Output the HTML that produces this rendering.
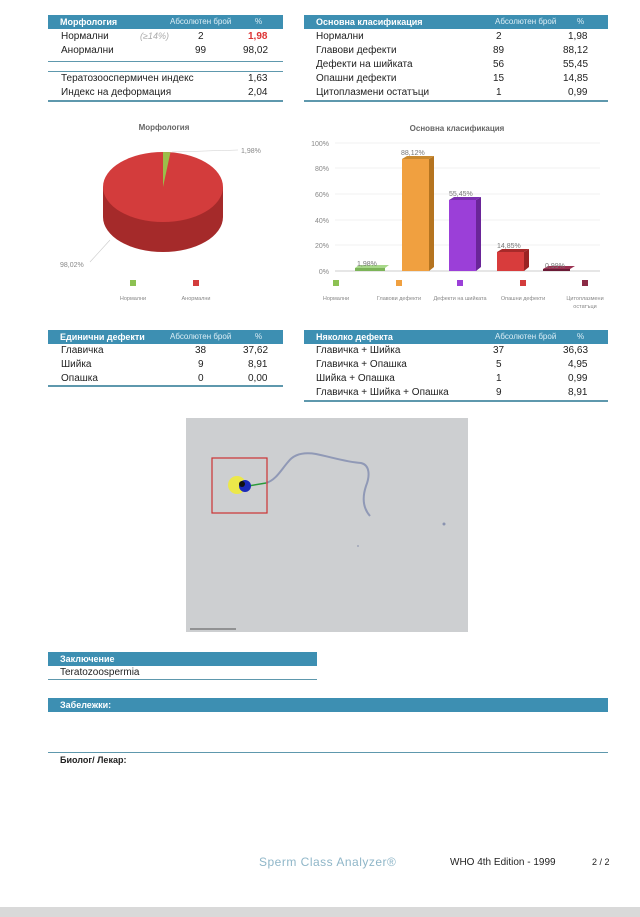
<!DOCTYPE html><html><head><meta charset="utf-8"><style>
body{margin:0;width:640px;height:917px;background:#fff;position:relative;font-family:"Liberation Sans",sans-serif;overflow:hidden}
.a{position:absolute;white-space:nowrap}
.h{position:absolute;background:#3d8fb2;color:#fff;font-size:9px;font-weight:bold;height:14px;line-height:14px}
.h span{position:absolute;font-weight:normal;font-size:8px;color:#dceef6}
.t{position:absolute;font-size:10px;color:#222}
.ln{position:absolute;height:2px;background:#5e98ad}
.r{text-align:right}
</style></head><body>
<!-- Table 1 -->
<div class="h" style="left:48px;top:15px;width:235px"><b style="position:absolute;left:12px">Морфология</b><span style="left:122px">Абсолютен брой</span><span style="left:207px">%</span></div>
<div class="t" style="left:61px;top:31px">Нормални</div><div class="t" style="left:140px;top:31px;color:#aaa;font-style:italic;font-size:9px">(≥14%)</div>
<div class="t" style="left:198px;top:31px">2</div><div class="t" style="left:248px;top:31px;color:#d33;font-weight:bold">1,98</div>
<div class="t" style="left:61px;top:45px">Анормални</div><div class="t" style="left:195px;top:45px">99</div><div class="t" style="left:243px;top:45px">98,02</div>
<div class="ln" style="left:48px;top:61px;width:235px;height:1px"></div>
<div class="ln" style="left:48px;top:71px;width:235px;height:1px"></div>
<div class="t" style="left:61px;top:73px">Тератозооспермичен индекс</div><div class="t" style="left:248px;top:73px">1,63</div>
<div class="t" style="left:61px;top:87px">Индекс на деформация</div><div class="t" style="left:248px;top:87px">2,04</div>
<div class="ln" style="left:48px;top:100px;width:235px"></div>
<!-- Table 2 -->
<div class="h" style="left:304px;top:15px;width:304px"><b style="position:absolute;left:12px">Основна класификация</b><span style="left:191px">Абсолютен брой</span><span style="left:273px">%</span></div>
<div class="t" style="left:316px;top:31px">Нормални</div><div class="t" style="left:496px;top:31px">2</div><div class="t" style="left:568px;top:31px">1,98</div>
<div class="t" style="left:316px;top:45px">Главови дефекти</div><div class="t" style="left:493px;top:45px">89</div><div class="t" style="left:563px;top:45px">88,12</div>
<div class="t" style="left:316px;top:59px">Дефекти на шийката</div><div class="t" style="left:493px;top:59px">56</div><div class="t" style="left:563px;top:59px">55,45</div>
<div class="t" style="left:316px;top:73px">Опашни дефекти</div><div class="t" style="left:493px;top:73px">15</div><div class="t" style="left:563px;top:73px">14,85</div>
<div class="t" style="left:316px;top:87px">Цитоплазмени остатъци</div><div class="t" style="left:496px;top:87px">1</div><div class="t" style="left:568px;top:87px">0,99</div>
<div class="ln" style="left:304px;top:100px;width:304px"></div>
<!-- Pie -->
<svg class="a" style="left:0;top:110px" width="320" height="200" font-family="Liberation Sans" font-size="7">
<text x="164" y="20" text-anchor="middle" font-size="8" font-weight="bold" fill="#666">Морфология</text>
<path d="M103 77 L103 107 A60 35 0 0 0 223 107 L223 77 Z" fill="#a52a2a"/>
<ellipse cx="163" cy="77" rx="60" ry="35" fill="#d33c3c"/>
<path d="M163 77 L163 42 A60 35 0 0 1 170.5 42.3 Z" fill="#9bbf4a"/>
<line x1="172" y1="42" x2="238" y2="40" stroke="#ccc" stroke-width="0.6"/>
<text x="241" y="43" fill="#888">1,98%</text>
<line x1="110" y1="130" x2="90" y2="152" stroke="#ccc" stroke-width="0.6"/>
<text x="60" y="157" fill="#888">98,02%</text>
<rect x="130" y="170" width="6" height="6" fill="#8cc152"/><rect x="193" y="170" width="6" height="6" fill="#d33c3c"/>
<text x="133" y="190" text-anchor="middle" font-size="5.5" fill="#888">Нормални</text>
<text x="196" y="190" text-anchor="middle" font-size="5.5" fill="#888">Анормални</text>
</svg>
<!-- Bar chart -->
<svg class="a" style="left:300px;top:120px" width="320" height="200" font-family="Liberation Sans" font-size="7">
<text x="157" y="11" text-anchor="middle" font-size="8" font-weight="bold" fill="#666">Основна класификация</text>
<g stroke="#eee" stroke-width="0.8">
<line x1="35" y1="23" x2="300" y2="23"/><line x1="35" y1="48" x2="300" y2="48"/><line x1="35" y1="74" x2="300" y2="74"/><line x1="35" y1="100" x2="300" y2="100"/><line x1="35" y1="125" x2="300" y2="125"/></g>
<line x1="35" y1="151" x2="300" y2="151" stroke="#ccc"/>
<g fill="#888" text-anchor="end"><text x="29" y="26">100%</text><text x="29" y="51">80%</text><text x="29" y="77">60%</text><text x="29" y="103">40%</text><text x="29" y="128">20%</text><text x="29" y="154">0%</text></g>
<path d="M55 148 l30 0 l4 -3 l-30 0 Z" fill="#a8d88a"/><rect x="55" y="148" width="30" height="3" fill="#7cb458"/>
<rect x="102" y="39" width="27" height="112" fill="#f0a040"/><path d="M129 39 l5 -3 l0 111 l-5 4 Z" fill="#b57420"/><path d="M102 39 l5 -3 l27 0 l-5 3 Z" fill="#c98a30"/>
<rect x="149" y="80" width="27" height="71" fill="#9b3fd8"/><path d="M176 80 l5 -3 l0 70 l-5 4 Z" fill="#6a2598"/><path d="M149 80 l5 -3 l27 0 l-5 3 Z" fill="#7a30b0"/>
<rect x="197" y="132" width="27" height="19" fill="#d83c3c"/><path d="M224 132 l5 -3 l0 18 l-5 4 Z" fill="#9a2424"/><path d="M197 132 l5 -3 l27 0 l-5 3 Z" fill="#a82a2a"/>
<path d="M243 149 l27 0 l5 -3 l-27 0 Z" fill="#9a3050"/><rect x="243" y="149" width="27" height="2" fill="#6a1a35"/>
<g fill="#777" font-size="7"><text x="57" y="146">1,98%</text><text x="101" y="35">88,12%</text><text x="149" y="76">55,45%</text><text x="197" y="128">14,85%</text><text x="245" y="148">0,99%</text></g>
<rect x="33" y="160" width="6" height="6" fill="#8cc152"/><rect x="96" y="160" width="6" height="6" fill="#f0a040"/><rect x="157" y="160" width="6" height="6" fill="#9b3fd8"/><rect x="220" y="160" width="6" height="6" fill="#d33c3c"/><rect x="282" y="160" width="6" height="6" fill="#8b2a45"/>
<g fill="#888" font-size="5.5" text-anchor="middle"><text x="36" y="180">Нормални</text><text x="99" y="180">Главови дефекти</text><text x="160" y="180">Дефекти на шийката</text><text x="223" y="180">Опашни дефекти</text><text x="285" y="180">Цитоплазмени</text><text x="285" y="188">остатъци</text></g>
</svg>
<!-- Table 3 -->
<div class="h" style="left:48px;top:330px;width:235px"><b style="position:absolute;left:12px">Единични дефекти</b><span style="left:122px">Абсолютен брой</span><span style="left:207px">%</span></div>
<div class="t" style="left:61px;top:345px">Главичка</div><div class="t" style="left:195px;top:345px">38</div><div class="t" style="left:243px;top:345px">37,62</div>
<div class="t" style="left:61px;top:359px">Шийка</div><div class="t" style="left:198px;top:359px">9</div><div class="t" style="left:248px;top:359px">8,91</div>
<div class="t" style="left:61px;top:373px">Опашка</div><div class="t" style="left:198px;top:373px">0</div><div class="t" style="left:248px;top:373px">0,00</div>
<div class="ln" style="left:48px;top:385px;width:235px"></div>
<!-- Table 4 -->
<div class="h" style="left:304px;top:330px;width:304px"><b style="position:absolute;left:12px">Няколко дефекта</b><span style="left:191px">Абсолютен брой</span><span style="left:273px">%</span></div>
<div class="t" style="left:316px;top:345px">Главичка + Шийка</div><div class="t" style="left:493px;top:345px">37</div><div class="t" style="left:563px;top:345px">36,63</div>
<div class="t" style="left:316px;top:359px">Главичка + Опашка</div><div class="t" style="left:496px;top:359px">5</div><div class="t" style="left:568px;top:359px">4,95</div>
<div class="t" style="left:316px;top:373px">Шийка + Опашка</div><div class="t" style="left:496px;top:373px">1</div><div class="t" style="left:568px;top:373px">0,99</div>
<div class="t" style="left:316px;top:387px">Главичка + Шийка + Опашка</div><div class="t" style="left:496px;top:387px">9</div><div class="t" style="left:568px;top:387px">8,91</div>
<div class="ln" style="left:304px;top:400px;width:304px"></div>
<!-- Image -->
<svg class="a" style="left:186px;top:418px" width="282" height="214">
<rect width="282" height="214" fill="#cdcfd1"/>
<path d="M80 65 C90 62 95 52 102 44 C108 36 118 34 130 36 C145 39 160 44 175 45 C184 47 184 58 180 68 C176 80 177 90 184 98" stroke="#9099b6" stroke-width="2" fill="none"/>
<rect x="26" y="40" width="55" height="55" fill="none" stroke="#c33" stroke-width="1.2"/>
<line x1="62" y1="68" x2="80" y2="65" stroke="#2a9a3a" stroke-width="1.5"/>
<circle cx="51" cy="67" r="9" fill="#ece84a"/>
<circle cx="59" cy="68" r="6" fill="#1a2ab8"/><circle cx="56" cy="66" r="3" fill="#111"/>
<circle cx="258" cy="106" r="1.5" fill="#8a93b0"/><circle cx="172" cy="128" r="1" fill="#a0a6b8"/>
<line x1="4" y1="211" x2="50" y2="211" stroke="#555" stroke-width="1"/>
</svg>
<!-- Conclusion -->
<div class="h" style="left:48px;top:652px;width:269px"><b style="position:absolute;left:12px">Заключение</b></div>
<div class="t" style="left:60px;top:667px">Teratozoospermia</div>
<div class="ln" style="left:48px;top:679px;width:269px;height:1px"></div>
<div class="h" style="left:48px;top:698px;width:560px"><b style="position:absolute;left:12px">Забележки:</b></div>
<div class="ln" style="left:48px;top:752px;width:560px;height:1px"></div>
<div class="t" style="left:60px;top:755px;font-weight:bold;font-size:9px">Биолог/ Лекар:</div>
<div class="a" style="left:259px;top:855px;font-size:12px;color:#8fb6c8;letter-spacing:0.5px">Sperm Class Analyzer®</div>
<div class="a" style="left:450px;top:857px;font-size:10px;color:#222">WHO 4th Edition - 1999</div>
<div class="a" style="left:592px;top:857px;font-size:9px;color:#222">2 / 2</div>
<div class="a" style="left:0;top:907px;width:640px;height:10px;background:#d9d9d9"></div>
</body></html>
